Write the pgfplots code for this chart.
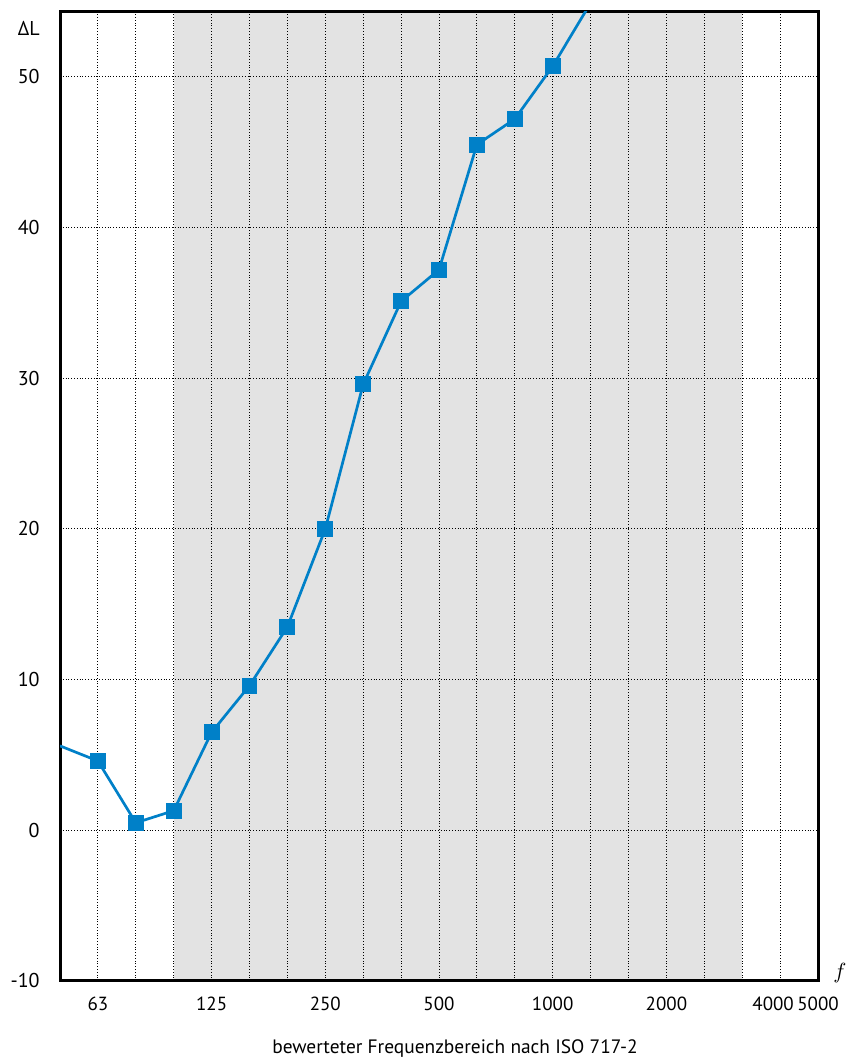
\documentclass[border=0pt]{standalone}
\usepackage{pgfplots}
\pgfplotsset{compat=1.18}
\usepackage{fontspec}
\setmainfont{PT Sans}
\definecolor{lineblue}{RGB}{0,128,200}
\definecolor{shade}{RGB}{227,227,227}
\begin{document}
\begin{tikzpicture}
\begin{axis}[
  set layers=standard,
  scale only axis,
  width=379pt, height=484.5pt,
  xmin=0, xmax=20, ymin=-10, ymax=54.3,
  xtick={0,...,20},
  xticklabels={,63,,,125,,,250,,,500,,,1000,,,2000,,,4000\kern7pt,5000},
  ytick={-10,0,10,20,30,40,50},
  major tick length=0pt,
  grid=major,
  major grid style={densely dotted, black, line width=0.5pt},
  axis line style={line width=1.5pt, black},
  /pgf/number format/assume math mode=true,
  xticklabel style={font=\fontsize{9.5}{11}\selectfont, anchor=center, yshift=-11.5pt, inner sep=0pt},
  yticklabel style={font=\fontsize{10}{12}\selectfont, anchor=east, inner sep=0pt, xshift=-10pt},
  xlabel={$f$},
  xlabel style={at={(axis description cs:1,0)}, anchor=center, xshift=11pt, yshift=4pt, font=\fontsize{11}{13}\selectfont},
  ylabel={ΔL},
  ylabel style={rotate=-90, at={(axis description cs:0,1)}, anchor=east, inner sep=0pt, xshift=-10pt, yshift=-8pt, font=\fontsize{10}{12}\selectfont},
  clip=true,
]
\addplot[fill=shade, draw=none, on layer=axis background] coordinates {(3,-10) (3,54.3) (18,54.3) (18,-10)} -- cycle;
\addplot[lineblue, line width=1.35pt, mark=square*, mark size=3.3pt, mark options={solid, fill=lineblue, draw=none}, mark indices={2,...,14}] coordinates {
(0,5.6) (1,4.6) (2,0.5) (3,1.3) (4,6.5) (5,9.6) (6,13.5) (7,20.0) (8,29.6) (9,35.1) (10,37.2) (11,45.5) (12,47.2) (13,50.7) (14,54.9)
};
\end{axis}
\node[font=\fontsize{9.7}{11}\selectfont, anchor=center] at ([xshift=197.5pt, yshift=-34pt]current axis.south west) {bewerteter Frequenzbereich nach ISO 717-2};
\pgfresetboundingbox
\path (current axis.south west) ++(-30pt,-41.5pt) rectangle ++(424pt,532pt);
\end{tikzpicture}
\end{document}
